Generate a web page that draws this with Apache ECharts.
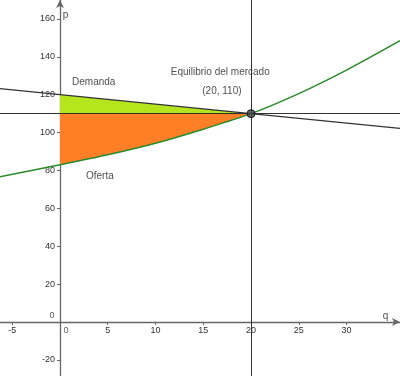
<!DOCTYPE html>
<html>
<head>
<meta charset="utf-8">
<script src="https://cdn.jsdelivr.net/npm/echarts@6/dist/echarts.min.js"></script>
<style>
  html, body { margin: 0; padding: 0; background: #fff; }
  #chart { width: 400px; height: 376px; }
</style>
</head>
<body>
<div id="chart"></div>
<script>
// valores
var qDemanda = [-6.3, 0, 20, 35.6];
var pDemanda = [123.2, 120, 110, 102.2];

var qOferta = [-6.3, 0, 5, 10, 15, 20, 25, 30, 35.6];
var pOferta = [76.7, 83, 88.3, 94.4, 101.8, 110, 120.6, 133, 148.5];

var equilibrio = [20, 110];

var xTicks = [-5, 5, 10, 15, 20, 25, 30];
var yTicks = [-20, 20, 40, 60, 80, 100, 120, 140, 160];

// textos y su posición (en unidades del gráfico)
var textos = [
  { name: 'Demanda', value: [1.26, 126.7] },
  { name: 'Equilibrio del mercado', value: [11.6, 132.0] },
  { name: '(20, 110)', value: [14.9, 121.6] },
  { name: 'Oferta', value: [2.72, 76.7] },
  { name: 'p', value: [0.3, 162] },
  { name: 'q', value: [33.8, 2.8] }
];

var xMin = -6.28, xMax = 35.6, yMin = -28.5, yMax = 170;
var W = 400, H = 376;

function pares(xs, ys, desde, hasta) {
  var out = [];
  for (var i = 0; i < xs.length; i++) {
    if (xs[i] >= desde && xs[i] <= hasta) out.push([xs[i], ys[i]]);
  }
  return out;
}

var fuente = '"Liberation Sans", Arial, sans-serif';
var ejeColor = '#666';

// los ejes se cruzan en (0,0): desplazarlos desde el borde
var offX = -Math.round(-yMin / (yMax - yMin) * H);
var offY = -Math.round(-xMin / (xMax - xMin) * W);

var chart = echarts.init(document.getElementById('chart'));

chart.setOption({
  animation: false,
  grid: { left: 0, right: 0, top: 0, bottom: 0, containLabel: false, outerBoundsMode: 'none' },
  xAxis: {
    type: 'value', min: xMin, max: xMax, position: 'bottom', offset: offX,
    splitLine: { show: false },
    axisLine: { onZero: false, symbol: ['none', 'arrow'], symbolSize: [6, 8],
      lineStyle: { color: ejeColor, width: 1.3 } },
    axisTick: { show: true, inside: false, length: 3, customValues: xTicks,
      lineStyle: { color: ejeColor } },
    axisLabel: { customValues: xTicks, margin: 4, fontSize: 9, color: '#333',
      fontFamily: fuente }
  },
  yAxis: {
    type: 'value', min: yMin, max: yMax, position: 'left', offset: offY,
    splitLine: { show: false },
    axisLine: { onZero: false, symbol: ['none', 'arrow'], symbolSize: [6, 8],
      lineStyle: { color: ejeColor, width: 1.3 } },
    axisTick: { show: true, inside: false, length: 3, customValues: yTicks,
      lineStyle: { color: ejeColor } },
    axisLabel: { customValues: yTicks, margin: 5, fontSize: 9, color: '#333',
      fontFamily: fuente }
  },
  series: [
    {
      // área verde: entre demanda y precio de equilibrio
      type: 'line', silent: true, symbol: 'none',
      data: pares(qDemanda, pDemanda, 0, 20),
      lineStyle: { width: 0 },
      areaStyle: { origin: 110, color: '#b5e61d', opacity: 1 },
      z: 1
    },
    {
      // área naranja: entre precio de equilibrio y oferta
      type: 'line', silent: true, symbol: 'none', smooth: 0.3,
      data: pares(qOferta, pOferta, 0, 20),
      lineStyle: { width: 0 },
      areaStyle: { origin: 110, color: '#ff7f27', opacity: 1 },
      z: 1
    },
    {
      name: 'Demanda', type: 'line', symbol: 'none',
      data: pares(qDemanda, pDemanda, -100, 100),
      lineStyle: { color: '#333', width: 1.2 },
      markLine: {
        silent: true, symbol: 'none', label: { show: false },
        lineStyle: { color: '#333', width: 1, type: 'solid' },
        data: [{ yAxis: equilibrio[1] }, { xAxis: equilibrio[0] }]
      },
      z: 3
    },
    {
      name: 'Oferta', type: 'line', symbol: 'none', smooth: 0.3,
      data: pares(qOferta, pOferta, -100, 100),
      lineStyle: { color: '#2b8a2b', width: 1.5 },
      z: 4
    },
    {
      type: 'scatter', symbolSize: 8,
      data: [equilibrio],
      itemStyle: { color: '#444', borderColor: '#000', borderWidth: 1 },
      z: 5
    },
    {
      // etiquetas de texto
      type: 'scatter', symbolSize: 0, silent: true,
      data: textos,
      label: { show: true, position: 'right', distance: 0,
        formatter: '{b}', fontSize: 10, color: '#222', fontFamily: fuente },
      z: 6
    },
    {
      // los dos "0" del origen
      type: 'scatter', symbolSize: 0, silent: true,
      data: [
        { value: [0, 0], label: { offset: [-8, -6] } },
        { value: [0, 0], label: { offset: [6, 9] } }
      ],
      label: { show: true, position: 'inside', formatter: '0', fontSize: 9,
        color: '#333', fontFamily: fuente },
      z: 6
    }
  ]
});
</script>
</body>
</html>
